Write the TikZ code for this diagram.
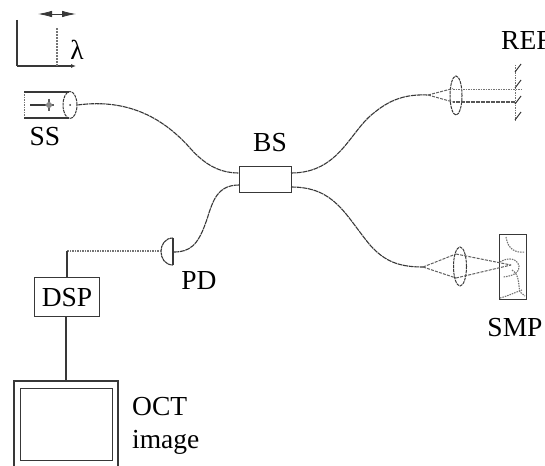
\documentclass[tikz,border=0pt]{standalone}
\usepackage{fontspec}
\setmainfont{Liberation Serif}
\usetikzlibrary{arrows.meta,shapes.geometric}
\definecolor{ink}{gray}{0.22}
\tikzset{
  x=1pt,y=-1pt,
  lab/.style={font=\fontsize{27.5}{27.5}\selectfont,text=black,inner sep=0pt},
  solidln/.style={draw=ink,line width=1.1pt},
  fibre/.style={draw=ink,line width=1.1pt,dash pattern=on 5pt off 0.7pt},
  ray/.style={draw=ink!80,line width=1pt,dash pattern=on 3pt off 1.2pt},
  thin dots/.style={draw=ink!70,line width=1pt,dash pattern=on 1.5pt off 1pt},
  boxn/.style={draw=ink,line width=1.1pt,fill=white,inner sep=0pt,anchor=north west},
  lensn/.style={draw=ink,line width=1pt,dash pattern=on 3pt off .8pt,ellipse,inner sep=0pt},
}
\begin{document}
\begin{tikzpicture}
\useasboundingbox (0,0) rectangle (545,465);
\clip (0,0) rectangle (545,465);
% spectrum sketch
\coordinate (ax0) at (17,66); \coordinate (axT) at (17,20); \coordinate (axR) at (76,66);
\coordinate (pk0) at (57,66); \coordinate (pkT) at (57,28);
\coordinate (wL) at (38,14); \coordinate (wR) at (76,14);
\draw[solidln] (axT) -- (ax0);
\draw[solidln,-{Latex[length=5pt,width=4pt]}] (ax0) -- (axR);
\draw[ink!70,line width=1.8pt,dash pattern=on 2pt off 1pt] (pk0) -- (pkT);
\draw[ink,line width=.8pt,{Latex[length=14pt,width=6.5pt]}-{Latex[length=14pt,width=6.5pt]}] (wL) -- (wR);
\node[lab] (lam) at (77,50) {λ};
% source
\draw[thin dots] (24,92) -- (24,118);
\draw[solidln] (24,92) -- (69,92);
\draw[solidln] (24,118) -- (69,118);
\node[lensn,minimum width=14pt,minimum height=27pt] (ssl) at (70,105) {};
\fill[ink] (70,105) circle (1pt);
\draw[solidln,line width=1.3pt] (30,105) -- (54,105);
\draw[ink!80,line width=1.5pt] (49,99) -- (49,111) (45,105) -- (54,105);
\fill[ink!60] (49,105) circle (3pt);
\node[lab] (ss) at (45,137) {SS};
% coupler
\node[boxn,minimum width=52pt,minimum height=26pt] (bs) at (239,166) {};
\node[lab] (bsl) at (270,143) {BS};
% REF arm
\coordinate (bsA) at (239,173); \coordinate (bsB) at (239,185);
\coordinate (bsC) at (291,173); \coordinate (bsD) at (291,187);
\coordinate (rf) at (428,95); \coordinate (sf) at (423,267);
\draw[fibre] (ssl.east) .. controls (130,98) and (165,120) .. (190,148) .. controls (205,165) and (220,173) .. (bsA);
\draw[fibre] (bsC) .. controls (340,173) and (350,130) .. (375,112) .. controls (390,100) and (405,94) .. (rf);
\draw[fibre] (bsD) .. controls (335,187) and (345,215) .. (370,245) .. controls (385,262) and (400,267) .. (sf);
\node[lensn,minimum width=12pt,minimum height=39pt] (lr) at (456,95.5) {};
\draw[ray] (rf) -- (453,88.5); \draw[ray] (rf) -- (453,102);
\coordinate (mt) at (515,65); \coordinate (mb) at (515,122);
\draw[thin dots,line width=.9pt] (453,89) -- (523,89);
\draw[ink!85,line width=1.3pt,dash pattern=on 2pt off .5pt] (453,102) -- (515,102);
\draw[thin dots] (mt) -- (mb);
\foreach \y in {72,88,104,120}{\draw[ink,line width=1pt] (515,\y) -- (521,\y-8);}
\node[lab,anchor=base west] (ref) at (501,50) {REF};
% SMP arm
\node[lensn,minimum width=13pt,minimum height=39pt] (ls) at (460,266.5) {};
\draw[ray] (sf) -- (456,254); \draw[ray] (sf) -- (456,278);
\node[boxn,minimum width=27pt,minimum height=65pt] (smp) at (499,234) {};
\draw[ray] (456,254) -- (511,265); \draw[ray] (456,278) -- (511,265);
\draw[thin dots,line width=1.1pt] (506,237) .. controls (508,250) and (516,253) .. (525,252);
\draw[thin dots,line width=1.1pt] (500,262) .. controls (508,257) and (517,258) .. (519,266) .. controls (520,272) and (514,276) .. (503,277);
\draw[thin dots,line width=1.1pt] (512,270) .. controls (520,275) and (518,285) .. (520,292) -- (525,296);
\draw[thin dots,line width=1.1pt] (500,298) .. controls (508,296) and (516,292) .. (522,290);
\node[lab] (smpl) at (515,328) {SMP};
% detector
\coordinate (pdt) at (173,238); \coordinate (pdb) at (173,265); \coordinate (corner) at (67,251);
\draw[fibre] (bsB) .. controls (215,185) and (212,205) .. (206,222) .. controls (198,245) and (190,252) .. (174,252);
\draw[draw=ink,line width=1.1pt] (pdt) -- (pdb);
\draw[ink,line width=1.1pt,dash pattern=on 3pt off .5pt] (pdt) .. controls (157,238) and (157,265) .. (pdb);
\coordinate (pdl) at (161,251);
\node[lab] (pd) at (199,281) {PD};
% DSP, image
\node[boxn,minimum width=65pt,minimum height=39pt] (dsp) at (34,277) {};
\node[lab] (dspl) at (dsp.center) {DSP};
\draw[thin dots,line width=1.4pt] (pdl) -- (corner);
\draw[solidln] (corner) -- (67,277);
\coordinate (oct) at (66,381);
\draw[solidln] (66,316) -- (oct);
\draw[solidln,line width=1.6pt] (14,466) -- (14,381) -- (118,381) -- (118,466);
\node[boxn,minimum width=92pt,minimum height=72pt] (scr) at (20,388) {};
\node[lab,anchor=west] (o1) at (132,407) {OCT};
\node[lab,anchor=base west] (o2) at (132,448) {image};
\end{tikzpicture}
\end{document}
